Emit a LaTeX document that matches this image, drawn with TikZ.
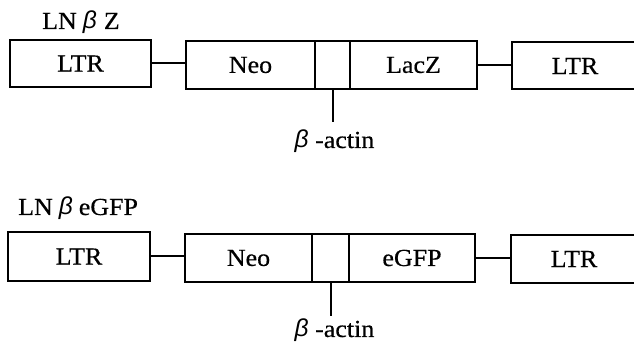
\documentclass[tikz,border=0pt]{standalone}
\usepackage{fontspec}
\setmainfont{Liberation Serif}[FakeStretch=1.06, FakeBold=0.5]
\newfontfamily\betafont{Liberation Sans}
\newcommand{\bet}{{\betafont\itshape β}}
\begin{document}
\begin{tikzpicture}[x=1pt,y=-1pt,
  box/.style={draw, line width=2pt, inner sep=0pt, font=\fontsize{24.5}{28}\selectfont},
  conn/.style={line width=2pt},
  lbl/.style={inner sep=0pt, anchor=base, font=\fontsize{24.5}{28}\selectfont},
  ttl/.style={inner sep=0pt, anchor=base west, font=\fontsize{24.5}{28}\selectfont}]
\useasboundingbox (0,0) rectangle (634,352);
\clip (0,0) rectangle (634,352);
% ---- top construct
\node[ttl] (t1) at (42,29) {LN\hspace{6pt}\bet\hspace{7pt}Z};
\node[box, minimum width=141pt, minimum height=47pt] (ltrA) at (80.5,63.5) {LTR};
\node[box, minimum width=129pt, minimum height=48pt] (neoA) at (250.5,65) {Neo};
\node[box, minimum width=35pt, minimum height=48pt] (actA) at (332.5,65) {};
\node[box, minimum width=127pt, minimum height=48pt] (lacA) at (413.5,65) {LacZ};
\node[box, minimum width=126pt, minimum height=47pt] (ltrB) at (575,66) {LTR};
\draw[conn] (ltrA.east) -- (ltrA.east -| neoA.west);
\draw[conn] (lacA.east) -- (lacA.east -| ltrB.west);
\coordinate (pA) at (333,122);
\draw[conn] (actA.south) -- (actA.south |- pA);
\node[lbl] (bA) at (334.5,148) {\bet\ -actin};
% ---- bottom construct
\node[ttl] (t2) at (18,215) {LN\hspace{6pt}\bet\hspace{6pt}eGFP};
\node[box, minimum width=142pt, minimum height=49pt] (ltrC) at (79,256.5) {LTR};
\node[box, minimum width=127pt, minimum height=48pt] (neoC) at (248.5,258) {Neo};
\node[box, minimum width=37pt, minimum height=48pt] (actC) at (330.5,258) {};
\node[box, minimum width=126pt, minimum height=48pt] (gfpC) at (412,258) {eGFP};
\node[box, minimum width=126pt, minimum height=48pt] (ltrD) at (574,259) {LTR};
\draw[conn] (ltrC.east) -- (ltrC.east -| neoC.west);
\draw[conn] (gfpC.east) -- (gfpC.east -| ltrD.west);
\coordinate (pC) at (332,316);
\draw[conn] (actC.south) -- (actC.south |- pC);
\node[lbl] (bC) at (334.5,337) {\bet\ -actin};
\end{tikzpicture}
\end{document}
